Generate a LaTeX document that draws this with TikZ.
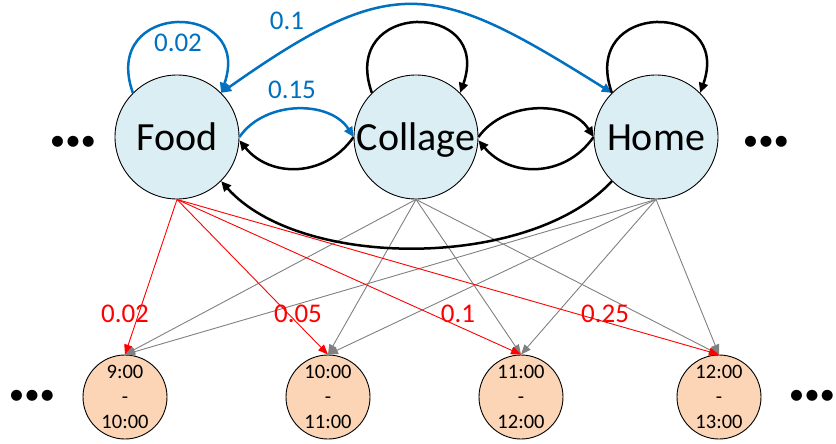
\documentclass[tikz,border=0pt]{standalone}
\usepackage{fontspec}
\setmainfont{Carlito}
\usetikzlibrary{arrows.meta}

\definecolor{stateblue}{HTML}{DAEEF3}
\definecolor{slotorange}{HTML}{FBD5B5}
\definecolor{probblue}{HTML}{0070C0}

\tikzset{
  state/.style={circle, draw, line width=0.9pt, fill=stateblue, minimum size=124pt,
    inner sep=0pt, text height=26pt, text depth=0pt, font=\fontsize{40}{48}\selectfont},
  slot/.style={circle, draw, line width=0.9pt, fill=slotorange, minimum size=84pt,
    inner sep=0pt, align=center, font=\fontsize{20.5}{25}\selectfont},
  trans/.style={line width=2.5pt, ->},
  emit/.style={line width=0.9pt, -{Triangle[length=10pt,width=8pt]}},
  prob/.style={font=\fontsize{27}{32}\selectfont},
  more/.style={font=\fontsize{31}{36}\selectfont},
}

\begin{document}
\begin{tikzpicture}[x=1pt, y=-1pt, >={Triangle[length=10pt,width=9pt]}]
  \useasboundingbox (0,0) rectangle (836,444);

  % hidden states
  \node[state] (food) at (177,137) {Food};
  \node[state] (collage) at (416,137) {Collage};
  \node[state] (home) at (656,137) {Home};
  \node[more] (moreL) at (73,143) {•••};
  \node[more] (moreR) at (766,143) {•••};

  % hour slots
  \node[slot] (h9) at (125,397) {9:00\\-\\10:00};
  \node[slot] (h10) at (328,397) {10:00\\-\\11:00};
  \node[slot] (h11) at (521,397) {11:00\\-\\12:00};
  \node[slot] (h12) at (719,397) {12:00\\-\\13:00};
  \node[more] (moreBL) at (32,397) {•••};
  \node[more] (moreBR) at (812,397) {•••};

  % emissions
  \foreach \h in {h9,h10,h11,h12} {
    \draw[emit, gray] (collage.south) -- (\h.north);
    \draw[emit, gray] (home.south) -- (\h.north);
  }
  \foreach \h in {h9,h10,h11,h12}
    \draw[emit, red] (food.south) -- (\h.north);
  \node[prob, red] (e9) at (125,314) {0.02};
  \node[prob, red] (e10) at (298,314) {0.05};
  \node[prob, red] (e11) at (458,314) {0.1};
  \node[prob, red] (e12) at (605,314) {0.25};

  % transitions out of Food
  \draw[trans, probblue] (food.135) .. controls +(-33,-93) and +(33,-93) .. (food.45);
  \draw[trans, probblue, <->] (food.45) .. controls (395,-30) and (435,-18) .. (home.135);
  \draw[trans, probblue] (food.east) .. controls (265,100) and (330,100) .. (collage.west);
  \node[prob, probblue] (pff) at (178,43) {0.02};
  \node[prob, probblue] (pfh) at (287,21) {0.1};
  \node[prob, probblue] (pfc) at (292,90) {0.15};

  % the other transitions
  \foreach \s in {collage,home}
    \draw[trans] (\s.135) .. controls +(-33,-93) and +(33,-93) .. (\s.45);
  \draw[trans] (collage.west) .. controls (325,178) and (270,178) .. (food.-3);
  \draw[trans] (collage.east) .. controls (505,100) and (570,100) .. (home.west);
  \draw[trans] (home.west) .. controls (565,178) and (510,178) .. (collage.-3);
  \draw[trans] (home.225) .. controls (530,270) and (300,270) .. (food.315);
\end{tikzpicture}
\end{document}
